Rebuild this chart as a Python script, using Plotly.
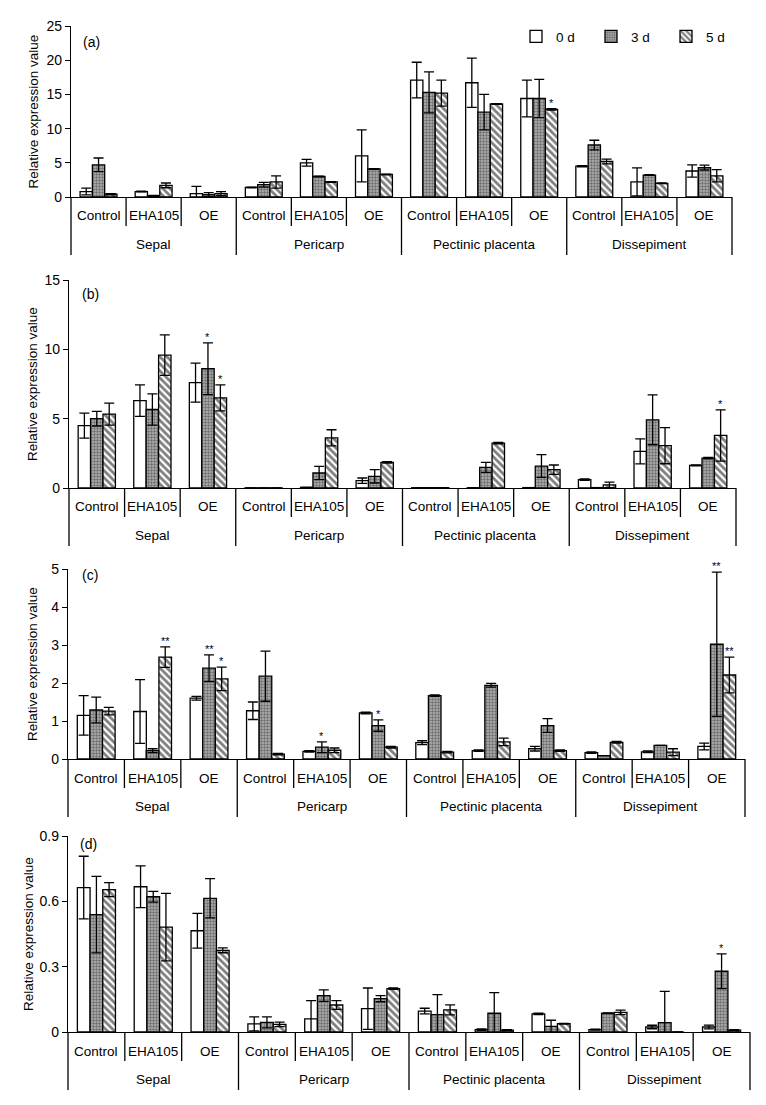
import plotly.graph_objects as go

W, H = 766, 1105

organs = ["Sepal", "Pericarp", "Pectinic placenta", "Dissepiment"]
treatments = ["Control", "EHA105", "OE"]
days = ["0 d", "3 d", "5 d"]
panel_labels = ["(a)", "(b)", "(c)", "(d)"]
y_title = "Relative expression value"

# ---- Panel (a) ----  (12 values: organ-major, treatment-minor)
a_0d = [0.8, 0.8, 0.5, 1.4, 5.0, 6.0, 17.1, 16.7, 14.4, 4.5, 2.2, 3.8]
a_0d_err = [0.5, 0.05, 1.05, 0.05, 0.5, 3.8, 2.6, 3.6, 2.7, 0.1, 2.05, 0.9]
a_3d = [4.7, 0.2, 0.35, 1.8, 3.0, 4.1, 15.3, 12.4, 14.4, 7.6, 3.2, 4.3]
a_3d_err = [1.0, 0.05, 0.3, 0.35, 0.05, 0.05, 3.0, 2.6, 2.8, 0.7, 0.05, 0.35]
a_5d = [0.4, 1.7, 0.5, 2.2, 2.2, 3.3, 15.2, 13.6, 12.8, 5.2, 2.0, 3.1]
a_5d_err = [0.1, 0.35, 0.3, 0.9, 0.05, 0.05, 1.9, 0.05, 0.1, 0.35, 0.05, 0.9]
a_ticks = [0, 5, 10, 15, 20, 25]
a_ticktext = ["0", "5", "10", "15", "20", "25"]

# ---- Panel (b) ----
b_0d = [4.5, 6.3, 7.6, 0.01, 0.05, 0.53, 0.02, 0.02, 0.03, 0.6, 2.64, 1.63]
b_0d_err = [0.9, 1.13, 1.4, 0, 0, 0.19, 0, 0, 0, 0.05, 0.9, 0.03]
b_3d = [5.0, 5.66, 8.6, 0.01, 1.08, 0.84, 0.02, 1.49, 1.58, 0.03, 4.92, 2.16]
b_3d_err = [0.53, 1.13, 1.87, 0, 0.48, 0.48, 0, 0.36, 0.82, 0, 1.8, 0.05]
b_5d = [5.33, 9.58, 6.5, 0.01, 3.62, 1.85, 0.02, 3.24, 1.32, 0.22, 3.05, 3.79]
b_5d_err = [0.79, 1.46, 0.94, 0, 0.58, 0.05, 0, 0.05, 0.34, 0.2, 1.3, 1.85]
b_ticks = [0, 5, 10, 15]
b_ticktext = ["0", "5", "10", "15"]

# ---- Panel (c) ----
c_0d = [1.15, 1.25, 1.6, 1.27, 0.2, 1.21, 0.43, 0.22, 0.27, 0.17, 0.19, 0.33]
c_0d_err = [0.52, 0.84, 0.05, 0.23, 0.02, 0.02, 0.05, 0.02, 0.06, 0.02, 0.02, 0.09]
c_3d = [1.29, 0.22, 2.39, 2.18, 0.31, 0.88, 1.67, 1.94, 0.88, 0.09, 0.36, 3.02]
c_3d_err = [0.34, 0.05, 0.35, 0.66, 0.14, 0.15, 0.02, 0.05, 0.18, 0.0, 0.0, 1.9]
c_5d = [1.26, 2.68, 2.11, 0.13, 0.23, 0.31, 0.18, 0.45, 0.22, 0.44, 0.18, 2.21]
c_5d_err = [0.1, 0.27, 0.31, 0.02, 0.06, 0.02, 0.02, 0.1, 0.02, 0.02, 0.09, 0.47]
c_ticks = [0, 1, 2, 3, 4, 5]
c_ticktext = ["0", "1", "2", "3", "4", "5"]

# ---- Panel (d) ----
d_0d = [0.663, 0.667, 0.465, 0.037, 0.06, 0.107, 0.096, 0.011, 0.083, 0.011, 0.023, 0.023]
d_0d_err = [0.144, 0.096, 0.08, 0.032, 0.084, 0.095, 0.013, 0.003, 0.003, 0.002, 0.008, 0.009]
d_3d = [0.539, 0.621, 0.614, 0.044, 0.167, 0.153, 0.08, 0.086, 0.026, 0.086, 0.043, 0.279]
d_3d_err = [0.176, 0.025, 0.09, 0.025, 0.026, 0.014, 0.092, 0.095, 0.028, 0.002, 0.144, 0.08]
d_5d = [0.654, 0.482, 0.375, 0.035, 0.124, 0.199, 0.102, 0.009, 0.038, 0.09, 0.0, 0.009]
d_5d_err = [0.032, 0.155, 0.011, 0.01, 0.02, 0.003, 0.023, 0.002, 0.002, 0.01, 0.0, 0.002]
d_ticks = [0, 0.3, 0.6, 0.9]
d_ticktext = ["0", "0.3", "0.6", "0.9"]

# significance marks: (panel index, bar index, day index, label)
sig_marks = [
    (0, 8, 2, "*"),
    (1, 2, 1, "*"), (1, 2, 2, "*"), (1, 11, 2, "*"),
    (2, 1, 2, "**"), (2, 2, 1, "**"), (2, 2, 2, "*"), (2, 4, 1, "*"),
    (2, 5, 1, "*"), (2, 11, 1, "**"), (2, 11, 2, "**"),
    (3, 11, 1, "*"),
]

panels = [
    dict(vals=[a_0d, a_3d, a_5d], errs=[a_0d_err, a_3d_err, a_5d_err], ticks=a_ticks, tt=a_ticktext,
         x0=71, x1=732, ytop=26, ybot=197, ttl_x=33, lab_x=91, lab_y=42),
    dict(vals=[b_0d, b_3d, b_5d], errs=[b_0d_err, b_3d_err, b_5d_err], ticks=b_ticks, tt=b_ticktext,
         x0=69, x1=736, ytop=280, ybot=488, ttl_x=32, lab_x=90, lab_y=294),
    dict(vals=[c_0d, c_3d, c_5d], errs=[c_0d_err, c_3d_err, c_5d_err], ticks=c_ticks, tt=c_ticktext,
         x0=68, x1=745, ytop=569, ybot=759, ttl_x=32, lab_x=90, lab_y=575),
    dict(vals=[d_0d, d_3d, d_5d], errs=[d_0d_err, d_3d_err, d_5d_err], ticks=d_ticks, tt=d_ticktext,
         x0=68, x1=750, ytop=836, ybot=1032, ttl_x=28, lab_x=88, lab_y=844),
]

FONT = "Liberation Sans, Arial, sans-serif"
BARGAP = 0.33
LW = 1.3
TXT = 13.5


def px_x(p):
    return p / W


def px_y(p):
    return 1 - p / H


styles = [
    dict(color="white"),
    dict(color="#a8a8a8", pattern=dict(shape=".", fgcolor="#262626", bgcolor="#b4b4b4",
                                        size=3, solidity=0.5)),
    dict(color="white", pattern=dict(shape="\\", fgcolor="black", bgcolor="white",
                                      size=5, solidity=0.55)),
]

n_cat = len(organs) * len(treatments)
xs = list(range(n_cat))
fig = go.Figure()
layout = dict(width=W, height=H, margin=dict(l=0, r=0, t=0, b=0, autoexpand=False), autosize=False,
              plot_bgcolor="white", paper_bgcolor="white", barmode="group",
              bargap=BARGAP, bargroupgap=0,
              font=dict(family=FONT, size=TXT, color="black"))
annotations = []
shapes = []

for pi, p in enumerate(panels):
    sfx = "" if pi == 0 else str(pi + 1)
    xa, ya = "x" + sfx, "y" + sfx
    for k in range(3):
        marker = dict(line=dict(color="black", width=LW), **styles[k])
        fig.add_trace(go.Bar(
            x=xs, y=p["vals"][k], name=days[k], xaxis=xa, yaxis=ya,
            offsetgroup=str(k), legendgroup=days[k], showlegend=(pi == 0),
            marker=marker, hoverinfo="skip",
            error_y=dict(type="data", array=p["errs"][k], symmetric=True,
                         color="black", thickness=LW, width=5),
        ))
    layout["xaxis" + sfx] = dict(domain=[px_x(p["x0"]), px_x(p["x1"])], anchor=ya,
                                 range=[-0.5, n_cat - 0.5], showline=True, linecolor="black",
                                 linewidth=LW, showticklabels=False, ticks="", showgrid=False,
                                 zeroline=False, fixedrange=True, automargin=False)
    layout["yaxis" + sfx] = dict(domain=[px_y(p["ybot"]), px_y(p["ytop"])], anchor=xa,
                                 range=[0, p["ticks"][-1]], tickvals=p["ticks"], ticktext=p["tt"],
                                 showline=True, linecolor="black", linewidth=LW, ticks="outside",
                                 ticklen=5, tickwidth=LW, tickcolor="black", showgrid=False,
                                 zeroline=False, tickfont=dict(size=14), fixedrange=True,
                                 automargin=False)
    base = p["ybot"]
    # treatment labels and organ labels
    for i in xs:
        annotations.append(dict(x=i, xref=xa, y=px_y(base + 19), yref="paper",
                                text=treatments[i % 3], showarrow=False,
                                font=dict(size=TXT), xanchor="center", yanchor="middle"))
    for j, org in enumerate(organs):
        annotations.append(dict(x=3 * j + 1, xref=xa, y=px_y(base + 47), yref="paper",
                                text=org, showarrow=False, font=dict(size=TXT),
                                xanchor="center", yanchor="middle"))
    # separators
    for i in range(1, n_cat):
        long_sep = (i % 3 == 0)
        shapes.append(dict(type="line", xref=xa, yref="paper", x0=i - 0.5, x1=i - 0.5,
                           y0=px_y(base), y1=px_y(base + (58 if long_sep else 29)),
                           line=dict(color="black", width=LW)))
    for edge in (0, 1):
        shapes.append(dict(type="line", xref=xa + " domain", yref="paper", x0=edge, x1=edge,
                           y0=px_y(base), y1=px_y(base + 58),
                           line=dict(color="black", width=LW)))
    # panel label and y title
    annotations.append(dict(x=px_x(p["lab_x"]), xref="paper", y=px_y(p["lab_y"]), yref="paper",
                            text=panel_labels[pi], showarrow=False, font=dict(size=14),
                            xanchor="center", yanchor="middle"))
    annotations.append(dict(x=px_x(p["ttl_x"]), xref="paper",
                            y=px_y((p["ytop"] + p["ybot"]) / 2), yref="paper",
                            text=y_title, textangle=-90, showarrow=False, font=dict(size=TXT),
                            xanchor="center", yanchor="middle"))

bw = (1 - BARGAP) / 3
for pi, i, k, lab in sig_marks:
    p = panels[pi]
    sfx = "" if pi == 0 else str(pi + 1)
    top = p["vals"][k][i] + p["errs"][k][i]
    annotations.append(dict(x=i + (k - 1) * bw, xref="x" + sfx, y=top, yref="y" + sfx,
                            text=lab, showarrow=False, font=dict(size=11),
                            xanchor="center", yanchor="bottom", yshift=-2))

layout["annotations"] = annotations
layout["shapes"] = shapes
layout["showlegend"] = True
layout["legend"] = dict(orientation="h", x=px_x(516), y=px_y(21), xanchor="left", yanchor="top",
                        font=dict(size=TXT), bgcolor="rgba(0,0,0,0)", borderwidth=0,
                        entrywidth=30, entrywidthmode="pixels", itemwidth=30,
                        traceorder="normal", tracegroupgap=0)
fig.update_layout(**layout)
fig.write_html("out.html", config={"displayModeBar": False},
               post_script="document.body.style.margin='0';document.body.style.padding='0';")
